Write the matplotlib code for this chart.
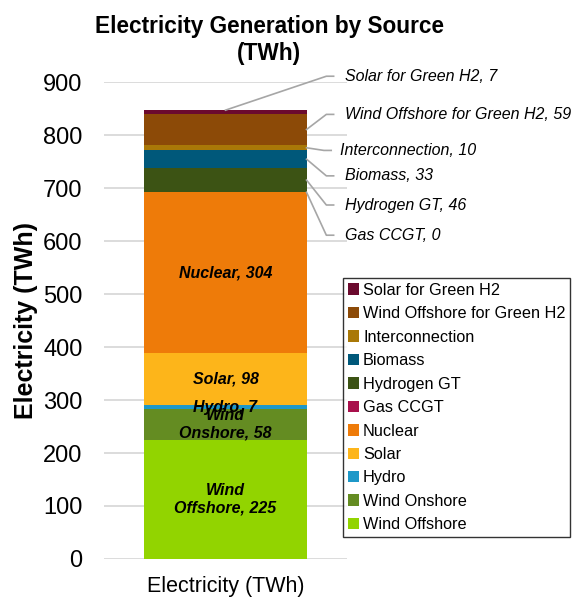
import matplotlib.pyplot as plt

plt.rcParams['font.family'] = ['Liberation Sans', 'DejaVu Sans']

# Data (bottom to top of the stack)
sources = ["Wind Offshore", "Wind Onshore", "Hydro", "Solar", "Nuclear", "Gas CCGT",
           "Hydrogen GT", "Biomass", "Interconnection", "Wind Offshore for Green H2",
           "Solar for Green H2"]
values = [225, 58, 7, 98, 304, 0, 46, 33, 10, 59, 7]
colors = ["#92D400", "#648C22", "#1E98C8", "#FDB51A", "#EE7B09", "#A8104C",
          "#3C5314", "#00587A", "#A97807", "#8C4A07", "#6B0A2E"]
category = "Electricity (TWh)"

# sources labelled inside the bar, and with call-outs on the right
inside = ["Wind Offshore", "Wind Onshore", "Hydro", "Solar", "Nuclear"]
inside_text = {"Wind Offshore": "Wind\nOffshore", "Wind Onshore": "Wind\nOnshore"}
callout_y = {"Solar for Green H2": 911, "Wind Offshore for Green H2": 839,
             "Interconnection": 771, "Biomass": 723, "Hydrogen GT": 668, "Gas CCGT": 611}

fig = plt.figure(figsize=(5.79, 5.99), dpi=100)
ax = fig.add_axes([0.1796, 0.0668, 0.4197, 0.7962])

width = 0.667
bottom = 0
handles = []
for name, val, col in zip(sources, values, colors):
    b = ax.bar(0, val, width, bottom=bottom, color=col, label=name, zorder=2)
    handles.append(b)
    mid = bottom + val / 2
    if name in inside:
        txt = inside_text.get(name, name)
        ax.text(0, mid, f"{txt}, {val}", ha="center", va="center", fontsize=11.5,
                fontweight="bold", fontstyle="italic", linespacing=1.15, zorder=3)
    elif name in callout_y:
        ty = callout_y[name]
        if name == "Solar for Green H2":
            x0, y0 = 0, bottom + val
        else:
            x0, y0 = width / 2, mid
        xe = 0.405 if name == "Interconnection" else 0.415
        ax.plot([x0, xe, xe + 0.03], [y0, ty, ty], color="#A6A6A6", lw=1.2,
                clip_on=False, zorder=3)
        tx = 0.472 if name == "Interconnection" else 0.49
        ax.text(tx, ty, f"{name}, {val}", ha="left", va="center", fontsize=11.5,
                fontstyle="italic", clip_on=False)
    bottom += val

ax.set_xlim(-0.5, 0.5)
ax.set_ylim(0, 900)
ax.set_yticks(range(0, 901, 100))
ax.set_xticks([0])
ax.set_xticklabels([category], fontsize=15.5)
ax.tick_params(axis="y", labelsize=17, length=0, pad=15.5)
ax.tick_params(axis="x", length=0, pad=12)
ax.yaxis.grid(True, color="#D9D9D9", lw=1.3, zorder=0)
ax.set_axisbelow(True)
for s in ax.spines.values():
    s.set_visible(False)
ax.set_ylabel("Electricity (TWh)", fontsize=18, fontweight="bold")
ax.yaxis.set_label_coords(-0.272, 0.5)

fig.suptitle("Electricity Generation by Source\n(TWh)", x=0.465, y=0.975,
             fontsize=16.3, fontweight="bold", linespacing=1.2)

leg = fig.legend(handles[::-1], sources[::-1], loc="upper left",
                 bbox_to_anchor=(0.592, 0.536), fontsize=11.7, frameon=True,
                 fancybox=False, edgecolor="black", handlelength=0.7,
                 handleheight=0.7, handletextpad=0.25, labelspacing=0.52,
                 borderpad=0.3, borderaxespad=0)
leg.get_frame().set_linewidth(1.0)

fig.savefig("out.png", dpi=100)
